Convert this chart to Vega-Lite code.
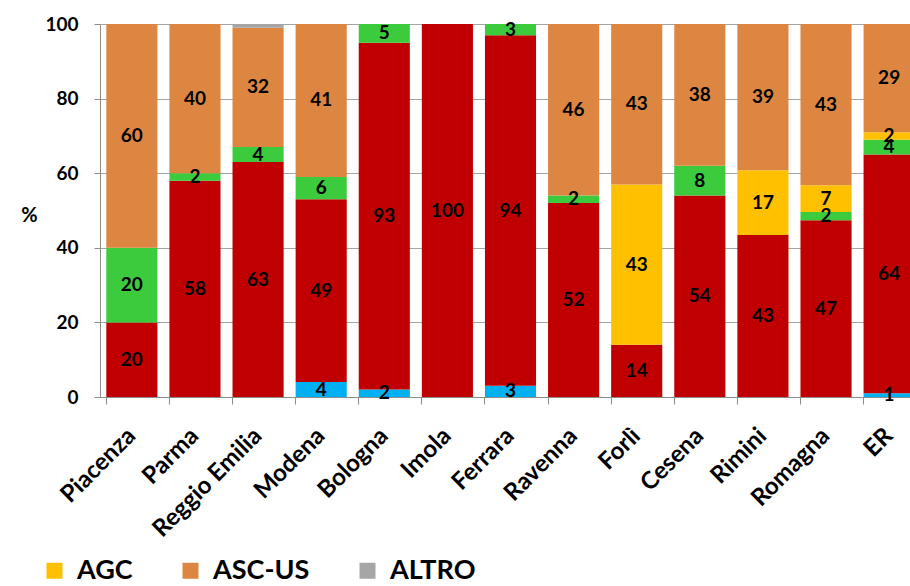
{
  "$schema": "https://vega.github.io/schema/vega-lite/v6.json",
  "width": 810,
  "height": 373,
  "autosize": {"type": "none"},
  "padding": {"left": 100, "top": 24, "right": 0, "bottom": 189},
  "background": "white",
  "config": {"view": {"stroke": null}, "font": "Lato"},
  "data": {
    "values": [
      {"area": "Piacenza", "cls": "HSIL", "v": 20},
      {"area": "Piacenza", "cls": "ASC-H", "v": 20},
      {"area": "Piacenza", "cls": "ASC-US", "v": 60},
      {"area": "Parma", "cls": "HSIL", "v": 58},
      {"area": "Parma", "cls": "ASC-H", "v": 2},
      {"area": "Parma", "cls": "ASC-US", "v": 40},
      {"area": "Reggio Emilia", "cls": "HSIL", "v": 63},
      {"area": "Reggio Emilia", "cls": "ASC-H", "v": 4},
      {"area": "Reggio Emilia", "cls": "ASC-US", "v": 32},
      {"area": "Reggio Emilia", "cls": "ALTRO", "v": 1},
      {"area": "Modena", "cls": "CA", "v": 4},
      {"area": "Modena", "cls": "HSIL", "v": 49},
      {"area": "Modena", "cls": "ASC-H", "v": 6},
      {"area": "Modena", "cls": "ASC-US", "v": 41},
      {"area": "Bologna", "cls": "CA", "v": 2},
      {"area": "Bologna", "cls": "HSIL", "v": 93},
      {"area": "Bologna", "cls": "ASC-H", "v": 5},
      {"area": "Imola", "cls": "HSIL", "v": 100},
      {"area": "Ferrara", "cls": "CA", "v": 3},
      {"area": "Ferrara", "cls": "HSIL", "v": 94},
      {"area": "Ferrara", "cls": "ASC-H", "v": 3},
      {"area": "Ravenna", "cls": "HSIL", "v": 52},
      {"area": "Ravenna", "cls": "ASC-H", "v": 2},
      {"area": "Ravenna", "cls": "ASC-US", "v": 46},
      {"area": "Forlì", "cls": "HSIL", "v": 14},
      {"area": "Forlì", "cls": "AGC", "v": 43},
      {"area": "Forlì", "cls": "ASC-US", "v": 43},
      {"area": "Cesena", "cls": "HSIL", "v": 54},
      {"area": "Cesena", "cls": "ASC-H", "v": 8},
      {"area": "Cesena", "cls": "ASC-US", "v": 38},
      {"area": "Rimini", "cls": "HSIL", "v": 43.4},
      {"area": "Rimini", "cls": "AGC", "v": 17.4},
      {"area": "Rimini", "cls": "ASC-US", "v": 39.2},
      {"area": "Romagna", "cls": "HSIL", "v": 47.4},
      {"area": "Romagna", "cls": "ASC-H", "v": 2.2},
      {"area": "Romagna", "cls": "AGC", "v": 7.2},
      {"area": "Romagna", "cls": "ASC-US", "v": 43.2},
      {"area": "ER", "cls": "CA", "v": 1},
      {"area": "ER", "cls": "HSIL", "v": 64},
      {"area": "ER", "cls": "ASC-H", "v": 4},
      {"area": "ER", "cls": "AGC", "v": 2},
      {"area": "ER", "cls": "ASC-US", "v": 29}
    ]
  },
  "transform": [
    {"calculate": "indexof(['CA','HSIL','ASC-H','AGC','ASC-US','ALTRO'], datum.cls)", "as": "o"},
    {"stack": "v", "groupby": ["area"], "sort": [{"field": "o", "order": "ascending"}], "as": ["y0", "y1"]},
    {"calculate": "(datum.y0 + datum.y1) / 2", "as": "ym"}
  ],
  "encoding": {
    "x": {
      "field": "area",
      "type": "nominal",
      "sort": null,
      "scale": {"range": [0, 821], "paddingInner": 0.19, "paddingOuter": 0.1}
    }
  },
  "layer": [
    {
      "mark": {"type": "bar"},
      "encoding": {
        "x": {
          "field": "area",
          "type": "nominal",
          "sort": null,
          "axis": {
            "orient": "bottom",
            "title": null,
            "ticks": false,
            "domain": true,
            "domainColor": "#8c8c8c",
            "labelAngle": -45,
            "labelAlign": "right",
            "labelBaseline": "middle",
            "labelFontSize": 24,
            "labelFontWeight": "bold",
            "labelColor": "#000000",
            "labelPadding": 35,
            "labelOffset": 0
          }
        },
        "y": {
          "field": "y0",
          "type": "quantitative",
          "scale": {"domain": [0, 100]},
          "axis": {
            "values": [0, 20, 40, 60, 80, 100],
            "grid": true,
            "gridColor": "#a6a6a6",
            "domainColor": "#8c8c8c",
            "tickColor": "#8c8c8c",
            "tickSize": 6,
            "labelFontSize": 19,
            "labelFontWeight": "bold",
            "labelColor": "#000000",
            "labelPadding": 16,
            "title": "%",
            "titleAngle": 0,
            "titleAlign": "center",
            "titleBaseline": "middle",
            "titleX": -71,
            "titleY": 191,
            "titleFontSize": 20,
            "titleFontWeight": "bold",
            "titleColor": "#000000"
          }
        },
        "y2": {"field": "y1"},
        "color": {
          "field": "cls",
          "type": "nominal",
          "scale": {
            "domain": ["CA", "HSIL", "ASC-H", "AGC", "ASC-US", "ALTRO"],
            "range": ["#00b0f0", "#c00000", "#3ccb3c", "#ffc000", "#dd8641", "#a6a6a6"]
          },
          "legend": {
            "values": ["AGC", "ASC-US", "ALTRO"],
            "orient": "none",
            "legendX": -59,
            "legendY": 533,
            "direction": "horizontal",
            "columns": 3,
            "title": null,
            "symbolType": "square",
            "symbolSize": 256,
            "symbolStrokeWidth": 0,
            "labelFontSize": 27,
            "labelFontWeight": "bold",
            "labelColor": "#000000",
            "labelOffset": 9,
            "columnPadding": 44
          }
        }
      }
    },
    {
      "transform": [{"filter": "datum.cls !== 'ALTRO'"}],
      "mark": {"type": "text", "fontSize": 19, "fontWeight": "bold", "color": "#000000"},
      "encoding": {
        "x": {
          "field": "area",
          "type": "nominal",
          "sort": null,
          "axis": {
            "orient": "bottom",
            "title": null,
            "labels": false,
            "domain": false,
            "ticks": true,
            "tickColor": "#8c8c8c",
            "tickSize": 7,
            "bandPosition": 0
          }
        },
        "y": {"field": "ym", "type": "quantitative"},
        "text": {"field": "v", "type": "quantitative", "format": ".0f"}
      }
    }
  ],
  "resolve": {"axis": {"x": "independent"}}
}
